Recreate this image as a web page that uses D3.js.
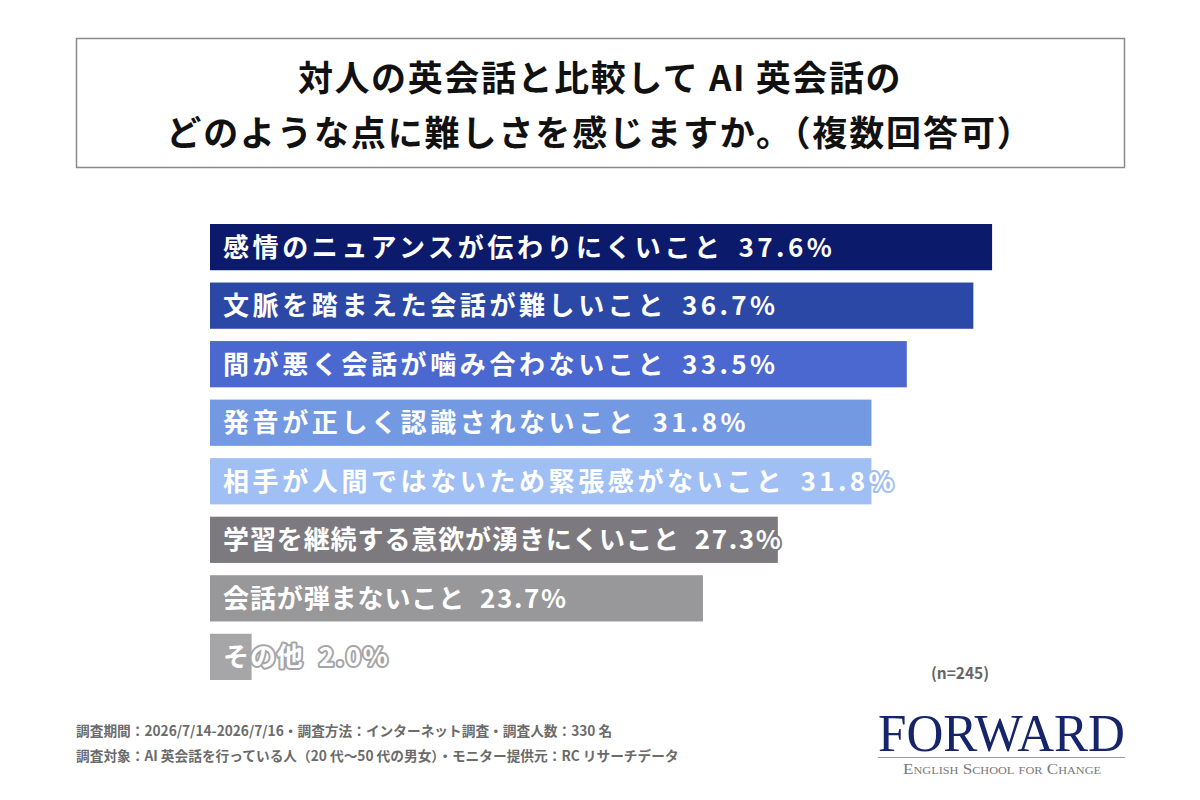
<!DOCTYPE html>
<html>
<head>
<meta charset="utf-8">
<script src="https://cdn.jsdelivr.net/npm/d3@7"></script>
<style>
  body { margin: 0; background: #fff; }
  svg { display: block; }
</style>
</head>
<body>
<div id="chart"></div>
<script>
// data
var categories = [
  "感情のニュアンスが伝わりにくいこと",
  "文脈を踏まえた会話が難しいこと",
  "間が悪く会話が噛み合わないこと",
  "発音が正しく認識されないこと",
  "相手が人間ではないため緊張感がないこと",
  "学習を継続する意欲が湧きにくいこと",
  "会話が弾まないこと",
  "その他"
];
var values = [37.6, 36.7, 33.5, 31.8, 31.8, 27.3, 23.7, 2.0];
var titleLines = [
  "対人の英会話と比較して AI 英会話の",
  "どのような点に難しさを感じますか。（複数回答可）"
];
var footLines = [
  "調査期間：2026/7/14-2026/7/16・調査方法：インターネット調査・調査人数：330 名",
  "調査対象：AI 英会話を行っている人（20 代〜50 代の男女）・モニター提供元：RC リサーチデータ"
];
var sampleNote = "(n=245)";

var palette = ["#0b1a6b", "#2b48a6", "#4a68cf", "#7399e2", "#9fbff5", "#7c7a7e", "#98979a", "#a6a5a8"];
// blue rows are set looser than the grey ones in the original
var labelSpacing = [3.6, 3.6, 3.6, 3.6, 3.6, 0.9, 0.9, 0.9];
var pctSpacing = [3.4, 3.4, 3.4, 3.4, 3.4, 1.6, 1.6, 1.6];

var width = 1200, height = 800;
var jp = "'Noto Sans CJK JP', 'Noto Sans', sans-serif";

var svg = d3.select("#chart")
  .append("svg")
  .attr("width", width)
  .attr("height", height);

svg.append("rect")
  .attr("width", width).attr("height", height)
  .attr("fill", "#fff");

// title box
svg.append("rect")
  .attr("x", 76.5).attr("y", 38.5)
  .attr("width", 1048).attr("height", 129)
  .attr("fill", "none")
  .attr("stroke", "#8a8a8a")
  .attr("stroke-width", 1.5);

svg.selectAll(".title")
  .data(titleLines)
  .enter().append("text")
  .attr("class", "title")
  .attr("x", 600)
  .attr("y", function(d, i){ return 91 + i * 55; })
  .attr("text-anchor", "middle")
  .style("font-family", jp)
  .style("font-weight", 700)
  .style("font-size", "35px")
  .style("letter-spacing", function(d, i){ return i ? "1.9px" : "1.6px"; })
  .style("fill", "#111")
  .text(function(d){ return d; });

// scales
var x = d3.scaleLinear().domain([0, 40]).range([210, 1042]);
var y = d3.scaleBand()
  .domain(categories)
  .range([224, 680])
  .paddingInner(0.21)
  .paddingOuter(0);
var color = d3.scaleOrdinal().domain(categories).range(palette);

var rows = categories.map(function(c, i){
  return { cat: c, val: values[i], sp: labelSpacing[i], psp: pctSpacing[i] };
});

svg.selectAll(".bar")
  .data(rows)
  .enter().append("rect")
  .attr("class", "bar")
  .attr("x", x(0))
  .attr("y", function(d){ return y(d.cat); })
  .attr("width", function(d){ return x(d.val) - x(0); })
  .attr("height", y.bandwidth())
  .attr("fill", function(d){ return color(d.cat); });

var labels = svg.selectAll(".lbl")
  .data(rows)
  .enter().append("text")
  .attr("class", "lbl")
  .attr("x", x(0) + 13)
  .attr("y", function(d){ return y(d.cat) + y.bandwidth() / 2 + 9.5; })
  .style("font-family", jp)
  .style("font-weight", 700)
  .style("font-size", "26px")
  .style("fill", "#fff")
  .style("stroke", function(d){ return color(d.cat); })
  .style("stroke-width", "4px")
  .style("stroke-linejoin", "round")
  .style("paint-order", "stroke");

labels.append("tspan")
  .style("letter-spacing", function(d){ return d.sp + "px"; })
  .text(function(d){ return d.cat; });
labels.append("tspan")
  .attr("dx", 15)
  .style("letter-spacing", function(d){ return d.psp + "px"; })
  .text(function(d){ return d.val.toFixed(1) + "%"; });

svg.append("text")
  .attr("x", 960).attr("y", 679)
  .attr("text-anchor", "middle")
  .style("font-family", jp)
  .style("font-weight", 700)
  .style("font-size", "15.5px")
  .style("fill", "#666")
  .text(sampleNote);

// footer
svg.selectAll(".foot")
  .data(footLines)
  .enter().append("text")
  .attr("class", "foot")
  .attr("x", 76)
  .attr("y", function(d, i){ return 736 + i * 25; })
  .style("font-family", jp)
  .style("font-weight", 700)
  .style("font-size", "13.7px")
  .style("fill", "#6b6b6b")
  .text(function(d){ return d; });

// logo
svg.append("text")
  .attr("x", 878).attr("y", 751)
  .attr("textLength", 247)
  .attr("lengthAdjust", "spacingAndGlyphs")
  .style("font-family", "'Liberation Serif', 'DejaVu Serif', serif")
  .style("font-size", "53px")
  .style("fill", "#16246a")
  .text("FORWARD");

svg.append("line")
  .attr("x1", 878).attr("x2", 1125)
  .attr("y1", 757.5).attr("y2", 757.5)
  .attr("stroke", "#9a9a9a")
  .attr("stroke-width", 1);

svg.append("text")
  .attr("x", 903).attr("y", 774)
  .attr("textLength", 198)
  .attr("lengthAdjust", "spacingAndGlyphs")
  .style("font-family", "'Liberation Serif', 'DejaVu Serif', serif")
  .style("font-size", "14px")
  .style("font-variant", "small-caps")
  .style("fill", "#7a7a7a")
  .text("English School for Change");
</script>
</body>
</html>
